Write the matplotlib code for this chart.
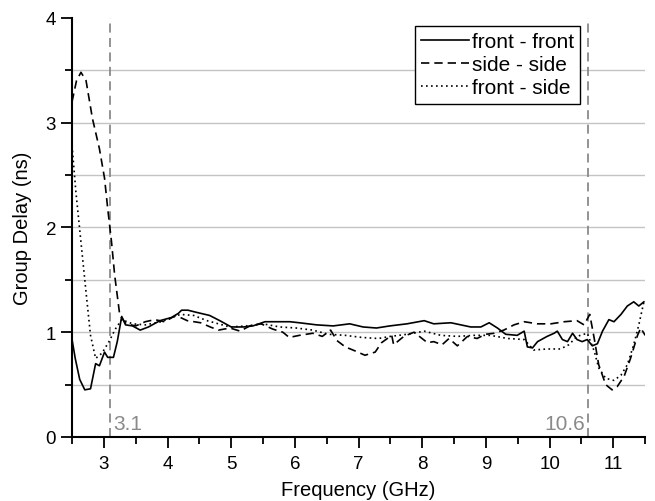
import numpy as np
import matplotlib
matplotlib.use("Agg")
import matplotlib.pyplot as plt

plt.rcParams['font.family'] = ['Liberation Sans', 'DejaVu Sans']

# front - front
f_ff = [2.50, 2.55, 2.62, 2.70, 2.79, 2.87, 2.93, 3.01, 3.06, 3.15, 3.21, 3.28, 3.34, 3.45,
        3.57, 3.70, 3.88, 4.06, 4.17, 4.22, 4.32, 4.45, 4.66, 4.82, 5.00, 5.19, 5.34, 5.53,
        5.71, 5.92, 6.07, 6.34, 6.60, 6.86, 7.07, 7.28, 7.49, 7.76, 8.03, 8.18, 8.45, 8.76,
        8.92, 9.05, 9.18, 9.31, 9.49, 9.60, 9.65, 9.73, 9.81, 9.96, 10.07, 10.12, 10.20,
        10.28, 10.36, 10.43, 10.51, 10.59, 10.67, 10.75, 10.83, 10.93, 11.01, 11.12, 11.22,
        11.32, 11.40, 11.48]
gd_ff = [0.93, 0.75, 0.55, 0.45, 0.46, 0.70, 0.68, 0.81, 0.76, 0.76, 0.91, 1.15, 1.07, 1.06,
         1.02, 1.05, 1.11, 1.14, 1.18, 1.21, 1.21, 1.19, 1.16, 1.11, 1.05, 1.05, 1.06, 1.10,
         1.10, 1.10, 1.09, 1.07, 1.06, 1.08, 1.05, 1.04, 1.06, 1.08, 1.11, 1.08, 1.09, 1.05,
         1.05, 1.09, 1.04, 0.98, 0.97, 1.01, 0.86, 0.85, 0.91, 0.96, 0.99, 1.01, 0.93,
         0.91, 0.99, 0.93, 0.91, 0.93, 0.87, 0.89, 1.01, 1.12, 1.10, 1.17, 1.25,
         1.29, 1.25, 1.29]

# side - side
f_ss = [2.50, 2.57, 2.64, 2.72, 2.82, 2.93, 3.01, 3.06, 3.12, 3.17, 3.25, 3.35, 3.50, 3.65,
        3.80, 3.95, 4.13, 4.31, 4.52, 4.67, 4.80, 4.98, 5.14, 5.29, 5.47, 5.65, 5.81, 5.91,
        6.07, 6.28, 6.43, 6.56, 6.66, 6.79, 6.95, 7.10, 7.26, 7.36, 7.52, 7.55, 7.71, 7.87,
        8.08, 8.18, 8.31, 8.42, 8.55, 8.71, 8.86, 8.99, 9.13, 9.28, 9.44, 9.60, 9.81, 10.02,
        10.23, 10.43, 10.54, 10.63, 10.70, 10.77, 10.88, 10.98, 11.06, 11.17, 11.27, 11.38,
        11.43, 11.50]
gd_ss = [3.20, 3.40, 3.48, 3.40, 3.04, 2.75, 2.47, 2.18, 1.86, 1.54, 1.16, 1.08, 1.06, 1.10,
         1.12, 1.10, 1.16, 1.11, 1.09, 1.05, 1.02, 1.04, 1.01, 1.06, 1.08, 1.03, 1.00, 0.95,
         0.97, 0.99, 0.96, 1.02, 0.92, 0.86, 0.82, 0.78, 0.81, 0.90, 0.97, 0.88, 0.96, 1.00,
         0.90, 0.91, 0.88, 0.94, 0.87, 0.96, 0.94, 0.98, 0.99, 1.02, 1.07, 1.10, 1.08, 1.08,
         1.10, 1.11, 1.07, 1.17, 0.94, 0.69, 0.50, 0.45, 0.48, 0.58, 0.75, 0.97,
         1.04, 0.97]

# front - side
f_fs = [2.50, 2.56, 2.64, 2.72, 2.79, 2.87, 2.97, 3.08, 3.18, 3.28, 3.45, 3.65, 3.90, 4.20,
        4.41, 4.62, 4.80, 4.98, 5.24, 5.50, 5.76, 6.02, 6.28, 6.53, 6.79, 7.05, 7.31, 7.50,
        7.76, 8.03, 8.29, 8.55, 8.81, 9.07, 9.34, 9.60, 9.75, 9.96, 10.17, 10.30, 10.43,
        10.59, 10.70, 10.77, 10.88, 11.01, 11.12, 11.22, 11.32, 11.40, 11.48]
gd_fs = [2.78, 2.34, 1.86, 1.38, 0.97, 0.75, 0.80, 0.91, 1.03, 1.12, 1.08, 1.07, 1.10, 1.17,
         1.16, 1.11, 1.08, 1.05, 1.06, 1.08, 1.05, 1.04, 1.02, 0.98, 0.97, 0.95, 0.94, 0.96,
         0.98, 1.01, 0.97, 0.96, 0.97, 0.97, 0.94, 0.93, 0.83, 0.84, 0.84, 0.88, 0.96,
         0.99, 0.82, 0.66, 0.56, 0.54, 0.59, 0.69, 0.88, 1.07, 1.29]

fig = plt.figure(figsize=(6.55, 5.02), dpi=100)
ax = fig.add_axes([0.11, 0.1275, 0.875, 0.835])

for yv in [0.5, 1.0, 1.5, 2.0, 2.5, 3.0, 3.5]:
    ax.axhline(yv, color='#c4c4c4', lw=1.0, zorder=0)

ax.axvline(3.1, color='#8a8a8a', ls=(0, (5, 3)), lw=1.3, zorder=1)
ax.axvline(10.6, color='#8a8a8a', ls=(0, (5, 3)), lw=1.3, zorder=1)
ax.text(3.14, 0.08, '3.1', color='#8a8a8a', fontsize=15, ha='left', va='baseline')
ax.text(10.56, 0.08, '10.6', color='#8a8a8a', fontsize=15, ha='right', va='baseline')

ax.plot(f_ff, gd_ff, color='black', lw=1.2, ls='-', label='front - front')
ax.plot(f_ss, gd_ss, color='black', lw=1.2, ls=(0, (5, 3)), label='side - side')
ax.plot(f_fs, gd_fs, color='black', lw=1.2, ls=(0, (1, 2)), label='front - side')

ax.set_xlim(2.5, 11.5)
ax.set_ylim(0, 4)
ax.set_xticks(np.arange(3, 12, 1))
ax.set_xticks(np.arange(2.5, 11.6, 0.5), minor=True)
ax.set_yticks([0, 1, 2, 3, 4])
ax.set_yticks(np.arange(0, 4.01, 0.5), minor=True)
ax.tick_params(which='both', direction='out', width=1.3, labelsize=13.5)
ax.tick_params(which='major', length=8)
ax.tick_params(which='minor', length=5)
ax.tick_params(axis='x', which='major', pad=5)

ax.spines['top'].set_visible(False)
ax.spines['right'].set_visible(False)
ax.spines['left'].set_linewidth(1.5)
ax.spines['bottom'].set_linewidth(1.5)

ax.set_xlabel('Frequency (GHz)', fontsize=14.5, labelpad=6)
ax.set_ylabel('Group Delay (ns)', fontsize=14.5, labelpad=10)

leg = ax.legend(loc='upper right', bbox_to_anchor=(0.887, 0.981), fontsize=15,
                fancybox=False, framealpha=1, edgecolor='black', handlelength=2.3,
                borderpad=0.3, labelspacing=0.2, handletextpad=0.15,
                borderaxespad=0)
leg.get_frame().set_linewidth(1.0)

fig.savefig('out.png', dpi=100)
